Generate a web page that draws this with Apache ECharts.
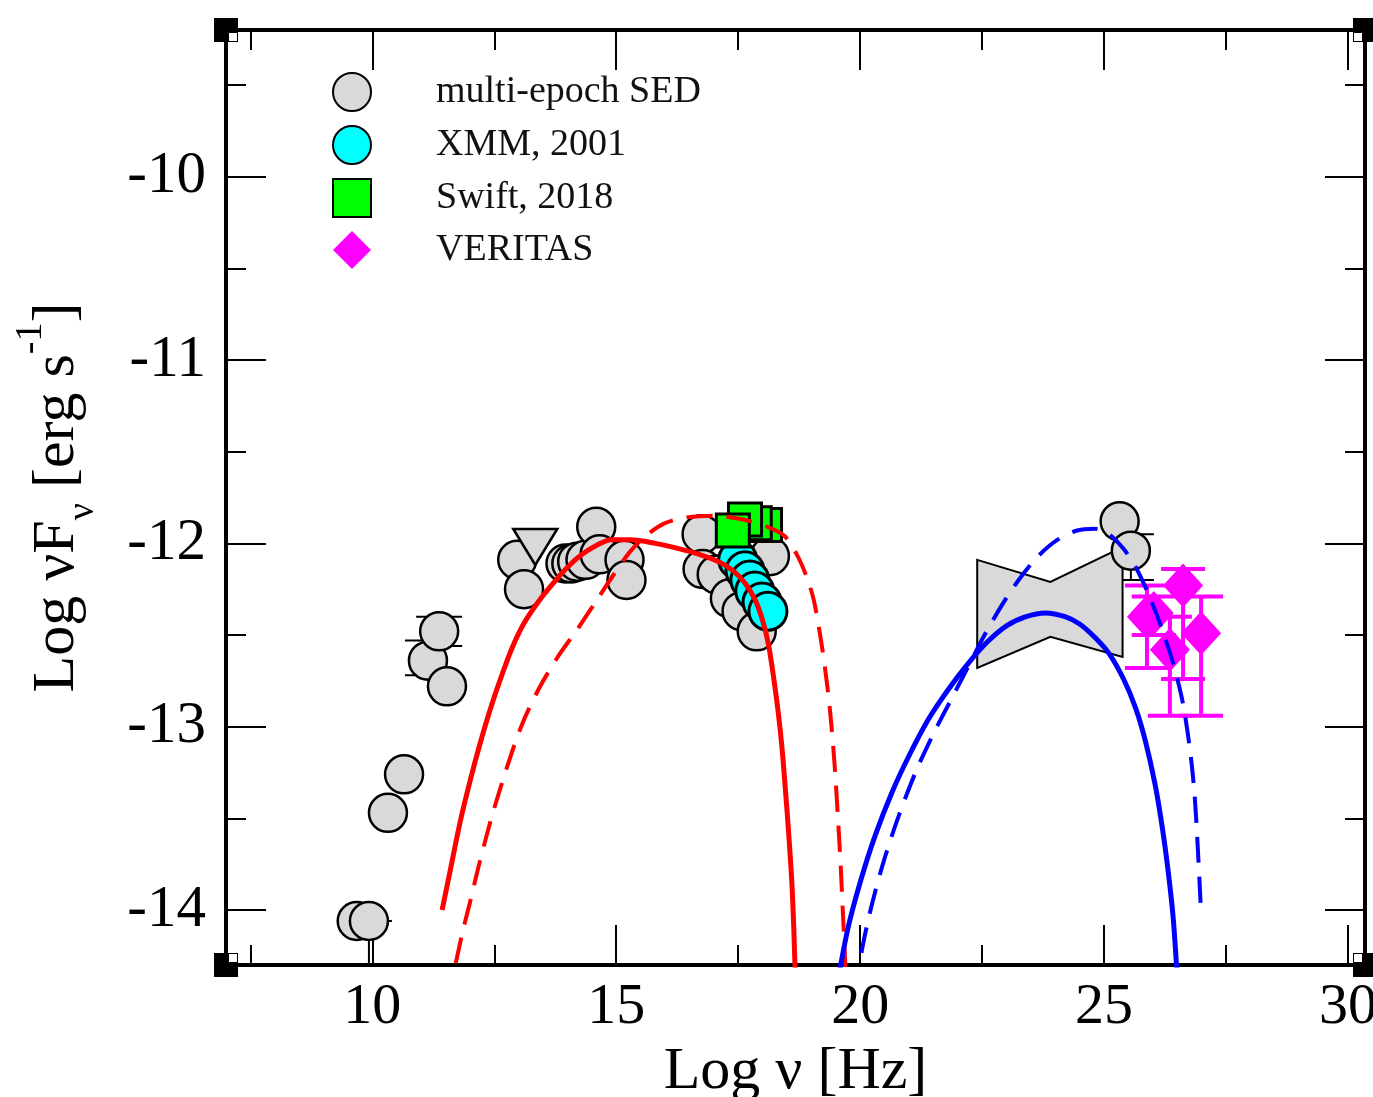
<!DOCTYPE html>
<html><head><meta charset="utf-8">
<script src="https://cdn.jsdelivr.net/npm/echarts@6/dist/echarts.min.js"></script>
<style>html,body{margin:0;padding:0;background:#fff}#c{width:1373px;height:1097px}</style>
</head><body><div id="c"></div>
<script>
// ---- axis ticks ----
const xTicksMajor = [10, 15, 20, 25, 30];
const xTicksMinor = [7.5, 12.5, 17.5, 22.5, 27.5];
const yTicksMajor = [-14, -13, -12, -11, -10];
const yTicksMinor = [-13.5, -12.5, -11.5, -10.5, -9.5];

// ---- multi-epoch SED (grey circles) ----
const sedNu   = [9.68, 9.93, 10.32, 10.65, 11.14, 11.37, 11.53, 12.97, 13.11, 13.96, 14.08, 14.20, 14.37, 14.59, 14.66, 15.17, 15.21,
                 16.75, 16.77, 17.06, 17.33, 17.57, 17.88, 18.15, 25.32, 25.55];
const sedFlux = [-14.06, -14.06, -13.47, -13.26, -12.64, -12.48, -12.78, -12.09, -12.25, -12.11, -12.11, -12.10, -12.09, -11.91, -12.06, -12.09, -12.20,
                 -11.95, -12.14, -12.17, -12.30, -12.37, -12.48, -12.07, -11.88, -12.04];
const sedErrNu = [9.93, 11.14, 11.37, 25.55];
const sedErrLo = [-14.5, -12.72, -12.56, -12.20];
const sedErrHi = [-14.06, -12.53, -12.40, -11.95];
// upper limit (down triangle)
const ulNu = [13.34];
const ulFlux = [-12.02];

// ---- XMM 2001 ----
const xmmNu   = [17.49, 17.64, 17.74, 17.84, 17.99, 18.11];
const xmmFlux = [-12.09, -12.15, -12.20, -12.26, -12.32, -12.37];

// ---- Swift 2018 ----
const swiftNu   = [18.05, 17.84, 17.64, 17.39];
const swiftFlux = [-11.90, -11.89, -11.87, -11.93];

// ---- Fermi bow-tie ----
const bowNu   = [22.40, 23.90, 25.38, 25.38, 23.90, 22.40];
const bowFlux = [-12.09, -12.21, -12.02, -12.62, -12.51, -12.68];

// ---- VERITAS ----
const verNu   = [25.88, 26.02, 26.35, 26.62, 26.99];
const verFlux = [-12.40, -12.38, -12.58, -12.23, -12.49];
const verLo   = [-12.68, -12.50, -12.94, -12.74, -12.94];
const verHi   = [-12.23, -12.29, -12.40, -12.14, -12.29];

// ---- model curves ----
const redSolidNu   = [11.43, 11.60, 11.80, 12.00, 12.20, 12.40, 12.60, 12.85, 13.10, 13.40, 13.70, 14.00, 14.30, 14.60, 14.90, 15.30, 15.80, 16.30, 16.70, 17.10, 17.40, 17.65, 17.85, 18.00, 18.12, 18.22, 18.32, 18.40, 18.47, 18.54, 18.60, 18.64, 18.68];
const redSolidFlux = [-14.00, -13.78, -13.52, -13.30, -13.10, -12.92, -12.76, -12.58, -12.44, -12.32, -12.22, -12.13, -12.06, -12.01, -11.98, -11.98, -12.00, -12.03, -12.06, -12.10, -12.15, -12.22, -12.31, -12.42, -12.55, -12.72, -12.92, -13.12, -13.35, -13.60, -13.85, -14.10, -14.45];
const redDashNu   = [11.71, 11.85, 12.00, 12.20, 12.45, 12.75, 13.05, 13.40, 13.80, 14.20, 14.60, 14.95, 15.30, 15.65, 16.00, 16.40, 17.00, 17.60, 18.10, 18.45, 18.70, 18.90, 19.05, 19.18, 19.28, 19.37, 19.44, 19.50, 19.55, 19.60, 19.64, 19.68, 19.72];
const redDashFlux = [-14.29, -14.12, -13.96, -13.74, -13.49, -13.23, -13.00, -12.80, -12.62, -12.47, -12.31, -12.17, -12.04, -11.95, -11.89, -11.86, -11.85, -11.87, -11.91, -11.96, -12.06, -12.18, -12.31, -12.50, -12.68, -12.88, -13.08, -13.30, -13.52, -13.75, -13.98, -14.20, -14.45];
const blueSolidNu   = [19.50, 19.75, 20.00, 20.30, 20.65, 21.00, 21.40, 21.80, 22.20, 22.60, 23.00, 23.40, 23.80, 24.20, 24.50, 24.80, 25.10, 25.40, 25.65, 25.85, 26.05, 26.20, 26.32, 26.42, 26.52];
const blueSolidFlux = [-14.45, -14.10, -13.85, -13.60, -13.36, -13.16, -12.96, -12.80, -12.66, -12.54, -12.45, -12.40, -12.38, -12.40, -12.44, -12.51, -12.60, -12.74, -12.90, -13.08, -13.32, -13.56, -13.80, -14.05, -14.45];
const blueDashNu   = [19.90, 20.05, 20.25, 20.50, 20.80, 21.15, 21.50, 21.85, 22.20, 22.55, 22.90, 23.25, 23.65, 24.05, 24.45, 24.80, 25.10, 25.40, 25.65, 25.90, 26.15, 26.40, 26.60, 26.75, 26.85, 26.92, 26.99];
const blueDashFlux = [-14.45, -14.20, -13.96, -13.72, -13.48, -13.24, -13.04, -12.86, -12.68, -12.50, -12.34, -12.20, -12.07, -11.98, -11.93, -11.92, -11.95, -12.03, -12.13, -12.27, -12.44, -12.64, -12.85, -13.10, -13.35, -13.65, -14.02];

const legendNames = ['multi-epoch SED', 'XMM, 2001', 'Swift, 2018', 'VERITAS'];

const FONT = 'Liberation Serif, Times New Roman, serif';
const zip = (a, b) => a.map((v, i) => [v, b[i]]);
const zip3 = (a, b, c) => a.map((v, i) => [v, b[i], c[i]]);

function errRender(color, width, capHalf) {
  return function (params, api) {
    const x = api.value(0), lo = api.value(1), hi = api.value(2);
    const pLo = api.coord([x, lo]), pHi = api.coord([x, hi]);
    const st = { stroke: color, lineWidth: width };
    return { type: 'group', children: [
      { type: 'line', shape: { x1: pLo[0], y1: pLo[1], x2: pHi[0], y2: pHi[1] }, style: st },
      { type: 'line', shape: { x1: pLo[0] - capHalf, y1: pLo[1], x2: pLo[0] + capHalf, y2: pLo[1] }, style: st },
      { type: 'line', shape: { x1: pHi[0] - capHalf, y1: pHi[1], x2: pHi[0] + capHalf, y2: pHi[1] }, style: st }
    ]};
  };
}

const gridBox = { left: 226, right: 8, top: 30, bottom: 132, containLabel: false, outerBoundsMode: 'none' };
const XMIN = 7, XMAX = 30.35, YMIN = -14.3, YMAX = -9.2;
const axLine = { show: true, lineStyle: { color: '#000', width: 4 } };
const noLine = { show: false };

function xAx(gridIndex, position, ticks, len, labels, extra) {
  return Object.assign({
    type: 'value', gridIndex, position, min: XMIN, max: XMAX,
    axisLine: gridIndex === 0 ? axLine : noLine,
    axisTick: { show: true, inside: true, length: len, customValues: ticks, lineStyle: { color: '#000', width: 2 } },
    axisLabel: labels ? { show: true, customValues: ticks, fontSize: 58, fontFamily: FONT, color: '#000', margin: 14 } : { show: false },
    splitLine: { show: false }
  }, extra || {});
}
function yAx(gridIndex, position, ticks, len, labels, extra) {
  return Object.assign({
    type: 'value', gridIndex, position, min: YMIN, max: YMAX,
    axisLine: gridIndex === 0 ? axLine : noLine,
    axisTick: { show: true, inside: true, length: len, customValues: ticks, lineStyle: { color: '#000', width: 2 } },
    axisLabel: labels ? { show: true, customValues: ticks, fontSize: 59, fontFamily: FONT, color: '#000', margin: 20 } : { show: false },
    splitLine: { show: false }
  }, extra || {});
}

const option = {
  animation: false,
  backgroundColor: '#fff',
  grid: [Object.assign({}, gridBox), Object.assign({}, gridBox)],
  xAxis: [
    xAx(0, 'bottom', xTicksMajor, 40, true, {
      name: 'Log ν [Hz]', nameLocation: 'middle', nameGap: 76,
      nameTextStyle: { fontSize: 60, fontFamily: FONT, color: '#000' }
    }),
    xAx(0, 'top', xTicksMajor, 40, false),
    xAx(1, 'bottom', xTicksMinor, 20, false),
    xAx(1, 'top', xTicksMinor, 20, false)
  ],
  yAxis: [
    yAx(0, 'left', yTicksMajor, 40, true, {
      name: '{a|Log νF}{s|ν}{a| [erg s}{p|-1}{a|]}', nameLocation: 'middle', nameGap: 124,
      nameTextStyle: { rich: {
        a: { fontSize: 60, fontFamily: FONT, color: '#000', lineHeight: 90, verticalAlign: 'middle' },
        s: { fontSize: 38, fontFamily: FONT, color: '#000', lineHeight: 38, verticalAlign: 'bottom' },
        p: { fontSize: 38, fontFamily: FONT, color: '#000', lineHeight: 38, verticalAlign: 'top' }
      } }
    }),
    yAx(0, 'right', yTicksMajor, 40, false),
    yAx(1, 'left', yTicksMinor, 20, false),
    yAx(1, 'right', yTicksMinor, 20, false)
  ],
  legend: {
    data: legendNames, orient: 'vertical', left: 332, top: 72, padding: 0,
    itemWidth: 38, itemHeight: 38, itemGap: 13, symbolKeepAspect: true,
    textStyle: { fontSize: 38, fontFamily: FONT, color: '#111', padding: [0, 0, 0, 60] },
    selectedMode: false
  },
  graphic: [],
  series: [
    { type: 'custom', name: 'sedErr', clip: true, renderItem: errRender('#000', 2, 23),
      data: zip3(sedErrNu, sedErrLo, sedErrHi), encode: { x: 0, y: [1, 2] } },
    { type: 'scatter', name: 'multi-epoch SED', data: zip(sedNu, sedFlux), symbol: 'circle', symbolSize: 38,
      itemStyle: { color: '#d9d9d9', borderColor: '#000', borderWidth: 2.5, opacity: 1 } },
    { type: 'scatter', name: 'upper limit', data: zip(ulNu, ulFlux), symbol: 'triangle', symbolRotate: 180, symbolSize: [44, 36],
      itemStyle: { color: '#d9d9d9', borderColor: '#000', borderWidth: 2.5, opacity: 1 } },
    { type: 'custom', name: 'bowtie', clip: true,
      renderItem: function (params, api) {
        if (params.dataIndex !== 0) return;
        const pts = bowNu.map((x, i) => api.coord([x, bowFlux[i]]));
        return { type: 'polygon', shape: { points: pts }, style: { fill: '#d9d9d9', stroke: '#000', lineWidth: 2 } };
      },
      data: zip(bowNu, bowFlux), encode: { x: 0, y: 1 } },
    { type: 'scatter', name: 'XMM, 2001', data: zip(xmmNu, xmmFlux), symbol: 'circle', symbolSize: 38,
      itemStyle: { color: '#00ffff', borderColor: '#000', borderWidth: 3, opacity: 1 } },
    { type: 'scatter', name: 'Swift, 2018', data: zip(swiftNu, swiftFlux), symbol: 'rect', symbolSize: 33,
      itemStyle: { color: '#00ff00', borderColor: '#000', borderWidth: 3, opacity: 1 } },
    { type: 'line', name: 'red solid', data: zip(redSolidNu, redSolidFlux), showSymbol: false, smooth: 0.3, clip: true,
      lineStyle: { color: '#ff0000', width: 5 } },
    { type: 'line', name: 'red dashed', data: zip(redDashNu, redDashFlux), showSymbol: false, smooth: 0.3, clip: true,
      lineStyle: { color: '#ff0000', width: 4, type: [26, 14] } },
    { type: 'line', name: 'blue solid', data: zip(blueSolidNu, blueSolidFlux), showSymbol: false, smooth: 0.3, clip: true,
      lineStyle: { color: '#0000ff', width: 5 } },
    { type: 'line', name: 'blue dashed', data: zip(blueDashNu, blueDashFlux), showSymbol: false, smooth: 0.3, clip: true,
      lineStyle: { color: '#0000ff', width: 4, type: [26, 14] } },
    { type: 'custom', name: 'verErr', clip: true, renderItem: errRender('#ff00ff', 4, 22),
      data: zip3(verNu, verLo, verHi), encode: { x: 0, y: [1, 2] } },
    { type: 'scatter', name: 'VERITAS', data: zip(verNu, verFlux), symbol: 'diamond', symbolSize: [40, 44],
      itemStyle: { color: '#ff00ff', opacity: 1 } }
  ]
};

const chart = echarts.init(document.getElementById('c'), null, { renderer: 'canvas' });
chart.setOption(option);

// corner markers (decoration) placed on the grid corners via the axes
const corners = [[XMIN, YMAX, 1, 1], [XMAX, YMAX, -1, 1], [XMIN, YMIN, 1, -1], [XMAX, YMIN, -1, -1]];
const g = [];
corners.forEach(c => {
  const p = chart.convertToPixel({ gridIndex: 0 }, [c[0], c[1]]);
  g.push({ type: 'rect', shape: { x: p[0] - 12, y: p[1] - 12, width: 24, height: 24 }, style: { fill: '#000' }, z: 100 });
  g.push({ type: 'rect', shape: { x: p[0] + (c[2] > 0 ? 3 : -11), y: p[1] + (c[3] > 0 ? 3 : -11), width: 8, height: 8 }, style: { fill: '#fff' }, z: 101 });
});
chart.setOption({ graphic: g });
</script>
</body></html>
